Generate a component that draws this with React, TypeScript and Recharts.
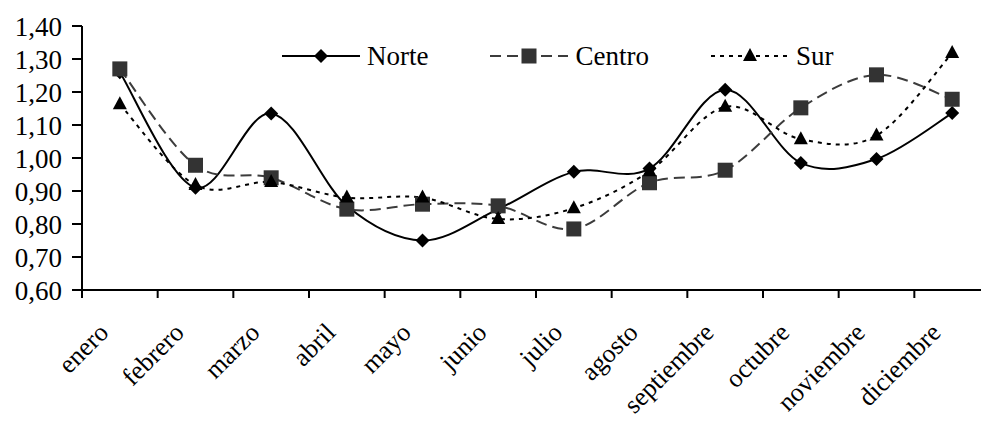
import React from 'react'
import { Legend, Line, LineChart, XAxis, YAxis } from 'recharts'

// monthly index values
const months = [
  'enero', 'febrero', 'marzo', 'abril', 'mayo', 'junio',
  'julio', 'agosto', 'septiembre', 'octubre', 'noviembre', 'diciembre',
]
const norte = [1.26, 0.91, 1.135, 0.855, 0.75, 0.845, 0.958, 0.968, 1.207, 0.985, 0.997, 1.136]
const centro = [1.27, 0.978, 0.94, 0.845, 0.86, 0.855, 0.785, 0.925, 0.963, 1.152, 1.252, 1.178]
const sur = [1.163, 0.918, 0.927, 0.88, 0.88, 0.815, 0.848, 0.96, 1.155, 1.057, 1.068, 1.318]
const yTicks = [0.6, 0.7, 0.8, 0.9, 1.0, 1.1, 1.2, 1.3, 1.4]

const data = months.map((m, i) => ({ month: m, Norte: norte[i], Centro: centro[i], Sur: sur[i] }))

const FONT = 'Liberation Serif, DejaVu Serif, serif'
const W = 1000
const H = 423
const M = { top: 26, right: 10, left: 0, bottom: 13 }
const Y_W = 82
const STEP = (W - M.left - M.right - Y_W) / months.length

// Excel-like smoothed line (Catmull-Rom through the points)
const smooth = (context: any) => {
  let pts: number[][] = []
  return {
    areaStart() {},
    areaEnd() {},
    lineStart() {
      pts = []
    },
    point(x: number, y: number) {
      pts.push([+x, +y])
    },
    lineEnd() {
      if (!pts.length) return
      context.moveTo(pts[0][0], pts[0][1])
      for (let i = 0; i < pts.length - 1; i++) {
        const p0 = pts[i - 1] || pts[i]
        const p1 = pts[i]
        const p2 = pts[i + 1]
        const p3 = pts[i + 2] || p2
        context.bezierCurveTo(
          p1[0] + (p2[0] - p0[0]) / 6,
          p1[1] + (p2[1] - p0[1]) / 6,
          p2[0] - (p3[0] - p1[0]) / 6,
          p2[1] - (p3[1] - p1[1]) / 6,
          p2[0],
          p2[1],
        )
      }
    },
  }
}

const Marker = ({ shape, cx, cy, fill }: { shape: string; cx: number; cy: number; fill: string }) => {
  if (shape === 'diamond') {
    return <path d={`M${cx},${cy - 7}L${cx + 7},${cy}L${cx},${cy + 7}L${cx - 7},${cy}Z`} fill={fill} />
  }
  if (shape === 'square') {
    return <rect x={cx - 7.5} y={cy - 7.5} width={15} height={15} fill={fill} />
  }
  return <path d={`M${cx},${cy - 8}L${cx + 7},${cy + 5}L${cx - 7},${cy + 5}Z`} fill={fill} />
}

const series = [
  { key: 'Norte', stroke: '#000000', dash: undefined, shape: 'diamond', fill: '#000000' },
  { key: 'Centro', stroke: '#3c3c3c', dash: '11 6', shape: 'square', fill: '#333333' },
  { key: 'Sur', stroke: '#000000', dash: '4 5', shape: 'triangle', fill: '#000000' },
]

const MonthTick = (props: any) => {
  const { x, y, payload, index } = props
  const axisY = y - 8
  const tx = x - 10
  const ty = y + 36
  return (
    <g>
      <line x1={x - STEP / 2} y1={axisY} x2={x - STEP / 2} y2={axisY + 8} stroke='#000' strokeWidth={2} />
      {index === months.length - 1 && (
        <line x1={x + STEP / 2} y1={axisY} x2={x + STEP / 2} y2={axisY + 8} stroke='#000' strokeWidth={2} />
      )}
      <text
        x={tx}
        y={ty}
        transform={`rotate(-45 ${tx} ${ty})`}
        textAnchor='end'
        fontFamily={FONT}
        fontSize={26}
        fill='#000'
      >
        {payload.value}
      </text>
    </g>
  )
}

const LegendContent = () => (
  <div style={{ display: 'flex', alignItems: 'center', fontFamily: FONT, fontSize: 27, color: '#000' }}>
    {series.map((s) => (
      <div key={s.key} style={{ display: 'flex', alignItems: 'center', marginRight: 62 }}>
        <svg width={78} height={20}>
          <line x1={0} y1={10} x2={78} y2={10} stroke={s.stroke} strokeWidth={2} strokeDasharray={s.dash} />
          <Marker shape={s.shape} cx={39} cy={10} fill={s.fill} />
        </svg>
        <span style={{ marginLeft: 7, lineHeight: '30px' }}>{s.key}</span>
      </div>
    ))}
  </div>
)

export default function App() {
  return (
    <div style={{ position: 'absolute', left: 0, top: 0, width: 981, height: 423, overflow: 'hidden', background: '#fff' }}>
      <LineChart width={W} height={H} data={data} margin={M}>
        <XAxis
          dataKey='month'
          interval={0}
          height={120}
          padding={{ left: STEP / 2, right: STEP / 2 }}
          tickSize={8}
          tickMargin={0}
          tickLine={false}
          axisLine={{ stroke: '#000', strokeWidth: 2 }}
          tick={<MonthTick />}
        />
        <YAxis
          domain={[0.6, 1.4]}
          ticks={yTicks}
          width={Y_W}
          tickSize={10}
          tickMargin={10}
          interval={0}
          tickFormatter={(v: number) => v.toFixed(2).replace('.', ',')}
          axisLine={{ stroke: '#000', strokeWidth: 2 }}
          tickLine={{ stroke: '#000', strokeWidth: 2 }}
          tick={{ fill: '#000', fontFamily: FONT, fontSize: 27 }}
        />
        <Legend
          layout='horizontal'
          verticalAlign='middle'
          align='center'
          content={<LegendContent />}
          wrapperStyle={{ top: 41, left: 282, width: 'auto' }}
        />
        {series.map((s) => (
          <Line
            key={s.key}
            dataKey={s.key}
            type={smooth as any}
            stroke={s.stroke}
            strokeWidth={2}
            strokeDasharray={s.dash}
            isAnimationActive={false}
            dot={(p: any) => <Marker key={`${s.key}-${p.index}`} shape={s.shape} cx={p.cx} cy={p.cy} fill={s.fill} />}
            activeDot={false}
          />
        ))}
      </LineChart>
    </div>
  )
}
